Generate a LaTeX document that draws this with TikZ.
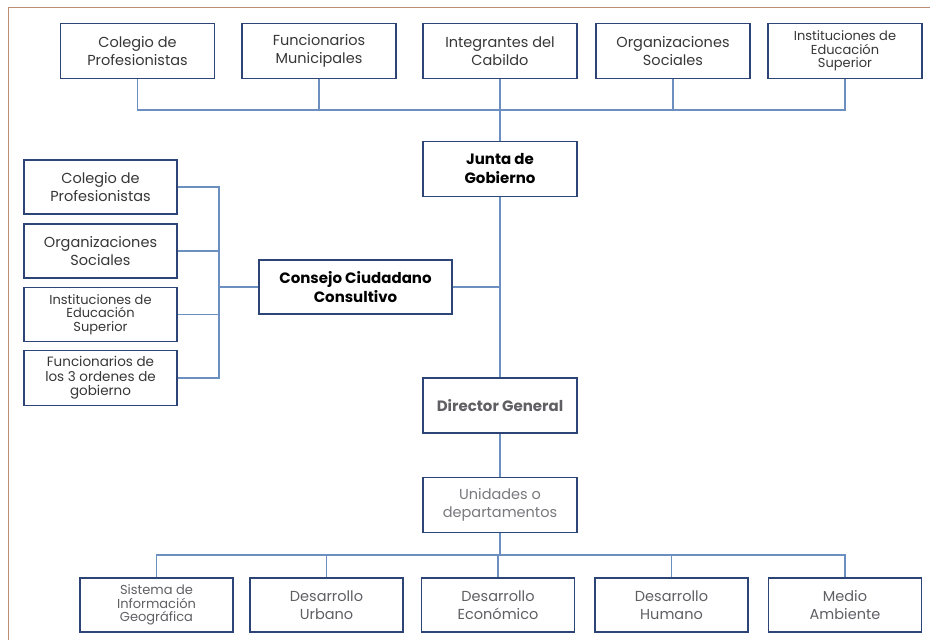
\documentclass[tikz,border=0pt]{standalone}
\usepackage{fontspec}
\setmainfont{Poppins}
\definecolor{boxblue}{RGB}{45,68,118}
\definecolor{linkblue}{RGB}{108,143,194}
\definecolor{framebrown}{RGB}{190,140,115}
\definecolor{txtdark}{RGB}{55,55,55}
\definecolor{txtgray}{RGB}{95,95,100}
\definecolor{txtlight}{RGB}{120,120,125}
\tikzset{
  orgbox/.style={draw=boxblue, line width=1.4pt, minimum width=154pt, minimum height=55pt,
    align=center, inner sep=1pt, text=txtdark, font=\fontsize{14.5}{18.5}\selectfont},
  boldtxt/.style={font=\bfseries\fontsize{15}{19}\selectfont},
  smalltxt/.style={font=\fontsize{13}{13.5}\selectfont},
  midtxt/.style={font=\fontsize{13.5}{14.5}\selectfont},
  link/.style={draw=linkblue, line width=1.4pt},
  framel/.style={draw=framebrown, line width=1pt}
}
\begin{document}
\begin{tikzpicture}[x=1pt,y=-1pt]
\useasboundingbox (0,0) rectangle (930,640);
\draw[framel] (8,640) -- (8,7) -- (930,7);
% top row
\node[orgbox] (t1) at (137.5,51) {Colegio de\\Profesionistas};
\node[orgbox] (t2) at (319,51) {Funcionarios\\Municipales};
\node[orgbox] (t3) at (500,51) {Integrantes del\\Cabildo};
\node[orgbox] (t4) at (673,51) {Organizaciones\\Sociales};
\node[orgbox, smalltxt] (t5) at (845,51) {Instituciones de\\Educación\\Superior};
% main column
\node[orgbox, boldtxt, text=black] (jg) at (500,169) {Junta de\\Gobierno};
\node[orgbox, minimum width=193pt, minimum height=54pt, text=black, boldtxt] (cc) at (355.5,287) {Consejo Ciudadano\\Consultivo};
\node[orgbox, text=txtgray, boldtxt] (dg) at (500,405.5) {Director General};
\node[orgbox, text=txtlight] (ud) at (500,505) {Unidades o\\departamentos};
% left column
\node[orgbox, minimum width=153pt, minimum height=54pt] (l1) at (100.5,187) {Colegio de\\Profesionistas};
\node[orgbox, minimum width=153pt, minimum height=54pt] (l2) at (100.5,251) {Organizaciones\\Sociales};
\node[orgbox, minimum width=153pt, minimum height=54pt, smalltxt] (l3) at (100.5,314.5) {Instituciones de\\Educación\\Superior};
\node[orgbox, minimum width=153pt, minimum height=55pt, midtxt] (l4) at (100.5,378) {Funcionarios de\\los 3 ordenes de\\gobierno};
% bottom row
\node[orgbox, minimum width=153pt, minimum height=54pt, smalltxt, text=txtgray] (b1) at (156.5,605) {Sistema de\\Información\\Geográfica};
\node[orgbox, minimum width=153pt, minimum height=54pt, text=txtgray] (b2) at (326.5,605) {Desarrollo\\Urbano};
\node[orgbox, minimum width=153pt, minimum height=54pt, text=txtgray] (b3) at (498,605) {Desarrollo\\Económico};
\node[orgbox, minimum width=153pt, minimum height=54pt, text=txtgray] (b4) at (671.5,605) {Desarrollo\\Humano};
\node[orgbox, minimum width=153pt, minimum height=54pt, text=txtgray] (b5) at (845,605) {Medio\\Ambiente};
% helper coordinates
\coordinate (tb) at (500,110);
\coordinate (lb) at (219,287);
\coordinate (bb) at (500,555);
% top connectors
\draw[link] (t1.south) |- (tb) -| (t5.south);
\draw[link] (t2.south) -- (t2.south |- tb);
\draw[link] (t4.south) -- (t4.south |- tb);
\draw[link] (t3.south) -- (jg.north);
% trunk
\draw[link] (jg.south) -- (dg.north);
\draw[link] (cc.east) -- (cc.east -| jg.south);
\draw[link] (dg.south) -- (ud.north);
% left bracket
\draw[link] (l1.east) -- (l1.east -| lb) -- (l4.east -| lb) -- (l4.east);
\draw[link] (l2.east) -- (l2.east -| lb);
\draw[link] (l3.east) -- (l3.east -| lb);
\draw[link] (lb) -- (cc.west);
% bottom connectors
\draw[link] (ud.south) -- (bb);
\draw[link] (b1.north) |- (bb) -| (b5.north);
\draw[link] (b2.north) -- (b2.north |- bb);
\draw[link] (b3.north) -- (b3.north |- bb);
\draw[link] (b4.north) -- (b4.north |- bb);
\end{tikzpicture}
\end{document}
